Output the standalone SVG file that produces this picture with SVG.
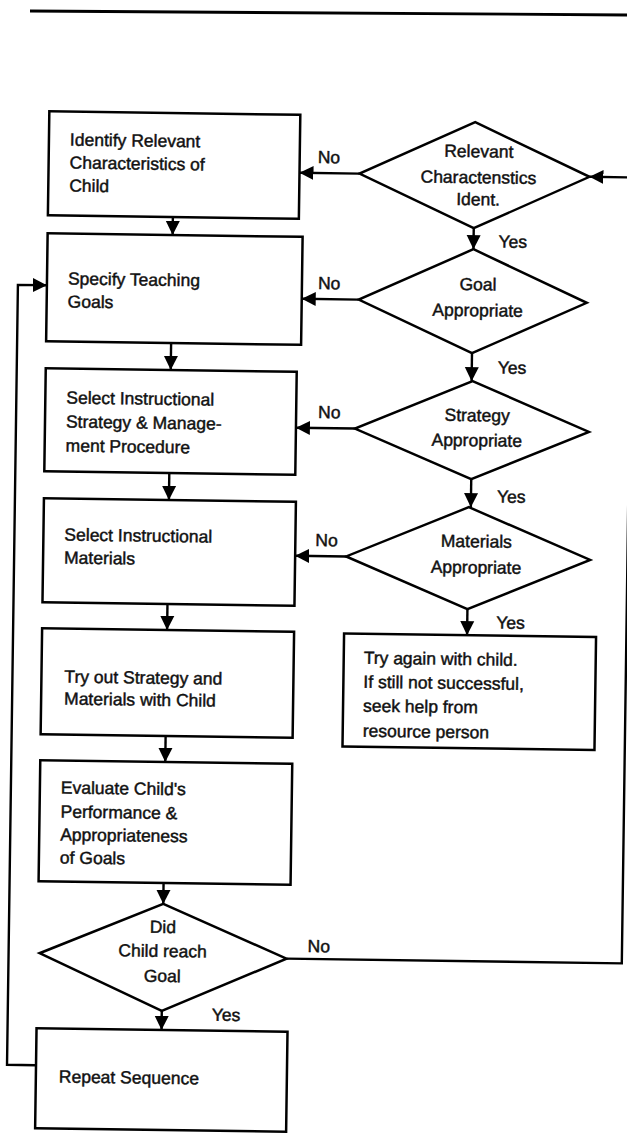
<svg xmlns="http://www.w3.org/2000/svg" width="627" height="1134" viewBox="0 0 627 1134">
  <style>
    .box { fill: #fff; stroke: #000; stroke-width: 2.5; }
    .dia { fill: #fff; stroke: #000; stroke-width: 2.5; stroke-linejoin: miter; }
    .wire { fill: none; stroke: #000; stroke-width: 2.4; }
    text { font-family: "Liberation Sans", Arial, Helvetica, sans-serif; font-size: 17.5px; fill: #111; stroke: #111; stroke-width: 0.45; }
    .mid { text-anchor: middle; }
  </style>
  <defs>
    <marker id="arrow" markerUnits="userSpaceOnUse" markerWidth="16" markerHeight="16" viewBox="0 0 16 16" refX="14" refY="8" orient="auto">
      <path d="M0,1 L14,8 L0,15 Z" fill="#000"/>
    </marker>
  </defs>

  <rect width="627" height="1134" fill="#fff"/>

  <!-- page rule at the top -->
  <line x1="30" y1="11" x2="627" y2="15" stroke="#000" stroke-width="2.8"/>

  <g transform="rotate(0.8 313 567)">
    <!-- connectors -->
    <g id="connectors">
      <line class="wire" x1="168" y1="219" x2="168" y2="237" marker-end="url(#arrow)"/>
      <line class="wire" x1="168" y1="345" x2="168" y2="372" marker-end="url(#arrow)"/>
      <line class="wire" x1="168" y1="475" x2="168" y2="502" marker-end="url(#arrow)"/>
      <line class="wire" x1="168" y1="606" x2="168" y2="632" marker-end="url(#arrow)"/>
      <line class="wire" x1="168" y1="738" x2="168" y2="764" marker-end="url(#arrow)"/>
      <line class="wire" x1="168" y1="885" x2="168" y2="906" marker-end="url(#arrow)"/>
      <line class="wire" x1="168" y1="1013" x2="168" y2="1032" marker-end="url(#arrow)"/>

      <line class="wire" x1="469" y1="226" x2="469" y2="247" marker-end="url(#arrow)"/>
      <line class="wire" x1="469" y1="351" x2="469" y2="379" marker-end="url(#arrow)"/>
      <line class="wire" x1="470" y1="477" x2="470" y2="505" marker-end="url(#arrow)"/>
      <line class="wire" x1="468" y1="607" x2="468" y2="633" marker-end="url(#arrow)"/>

      <line class="wire" x1="354" y1="173" x2="294" y2="173" marker-end="url(#arrow)"/>
      <line class="wire" x1="355" y1="299" x2="298" y2="299" marker-end="url(#arrow)"/>
      <line class="wire" x1="353" y1="428" x2="294" y2="428" marker-end="url(#arrow)"/>
      <line class="wire" x1="346" y1="556" x2="295" y2="556" marker-end="url(#arrow)"/>

      <!-- "No" from the final check returns to the first check -->
      <polyline class="wire" points="292,959 627.3,959 627.3,173 584,173" marker-end="url(#arrow)"/>
      <!-- "Repeat Sequence" loops back to the goals -->
      <polyline class="wire" points="43,1069 14,1069 14,289 43,289" marker-end="url(#arrow)"/>
    </g>

    <!-- left column -->
    <g id="identify">
      <rect class="box" x="43" y="115" width="251" height="104"/>
      <text x="64" y="149">Identify Relevant</text>
      <text x="64" y="172">Characteristics of</text>
      <text x="64" y="195">Child</text>
    </g>
    <g id="specify">
      <rect class="box" x="43" y="237" width="255" height="108"/>
      <text x="64" y="288">Specify Teaching</text>
      <text x="64" y="311">Goals</text>
    </g>
    <g id="strategy">
      <rect class="box" x="43" y="372" width="251" height="103"/>
      <text x="64" y="407">Select Instructional</text>
      <text x="64" y="431">Strategy &amp; Manage-</text>
      <text x="64" y="455">ment Procedure</text>
    </g>
    <g id="materials">
      <rect class="box" x="43" y="502" width="252" height="104"/>
      <text x="64" y="544">Select Instructional</text>
      <text x="64" y="567">Materials</text>
    </g>
    <g id="tryout">
      <rect class="box" x="43" y="632" width="252" height="106"/>
      <text x="66" y="686">Try out Strategy and</text>
      <text x="66" y="708">Materials with Child</text>
    </g>
    <g id="evaluate">
      <rect class="box" x="43" y="764" width="252" height="121"/>
      <text x="64" y="797">Evaluate Child's</text>
      <text x="64" y="821">Performance &amp;</text>
      <text x="64" y="844">Appropriateness</text>
      <text x="64" y="867">of Goals</text>
    </g>
    <g id="reach-goal">
      <polygon class="dia" points="168,906 292,959 168,1013 45,957"/>
      <text class="mid" x="168" y="935">Did</text>
      <text class="mid" x="168" y="959">Child reach</text>
      <text class="mid" x="168" y="984">Goal</text>
      <text x="313" y="952">No</text>
      <text x="218" y="1022">Yes</text>
    </g>
    <g id="repeat">
      <rect class="box" x="43" y="1032" width="251" height="100"/>
      <text x="66" y="1086">Repeat Sequence</text>
    </g>

    <!-- right column -->
    <g id="chars-identified">
      <polygon class="dia" points="469,120 584,173 469,226 354,173"/>
      <text class="mid" x="473" y="155">Relevant</text>
      <text class="mid" x="473" y="181">Charactenstics</text>
      <text class="mid" x="473" y="203">Ident.</text>
      <text x="312" y="163">No</text>
      <text x="494" y="245">Yes</text>
    </g>
    <g id="goal-ok">
      <polygon class="dia" points="469,247 583,299 469,351 355,299"/>
      <text class="mid" x="474" y="288">Goal</text>
      <text class="mid" x="474" y="314">Appropriate</text>
      <text x="314" y="289">No</text>
      <text x="495" y="371">Yes</text>
    </g>
    <g id="strategy-ok">
      <polygon class="dia" points="470,379 587,428 470,477 353,428"/>
      <text class="mid" x="475" y="419">Strategy</text>
      <text class="mid" x="475" y="444">Appropriate</text>
      <text x="316" y="418">No</text>
      <text x="496" y="500">Yes</text>
    </g>
    <g id="materials-ok">
      <polygon class="dia" points="468,505 590,556 468,607 346,556"/>
      <text class="mid" x="476" y="545">Materials</text>
      <text class="mid" x="476" y="571">Appropriate</text>
      <text x="315" y="546">No</text>
      <text x="497" y="626">Yes</text>
    </g>
    <g id="try-again">
      <rect class="box" x="345" y="633" width="252" height="113"/>
      <text x="365" y="663">Try again with child.</text>
      <text x="365" y="687">If still not successful,</text>
      <text x="365" y="711">seek help from</text>
      <text x="365" y="736">resource person</text>
    </g>
  </g>
</svg>
